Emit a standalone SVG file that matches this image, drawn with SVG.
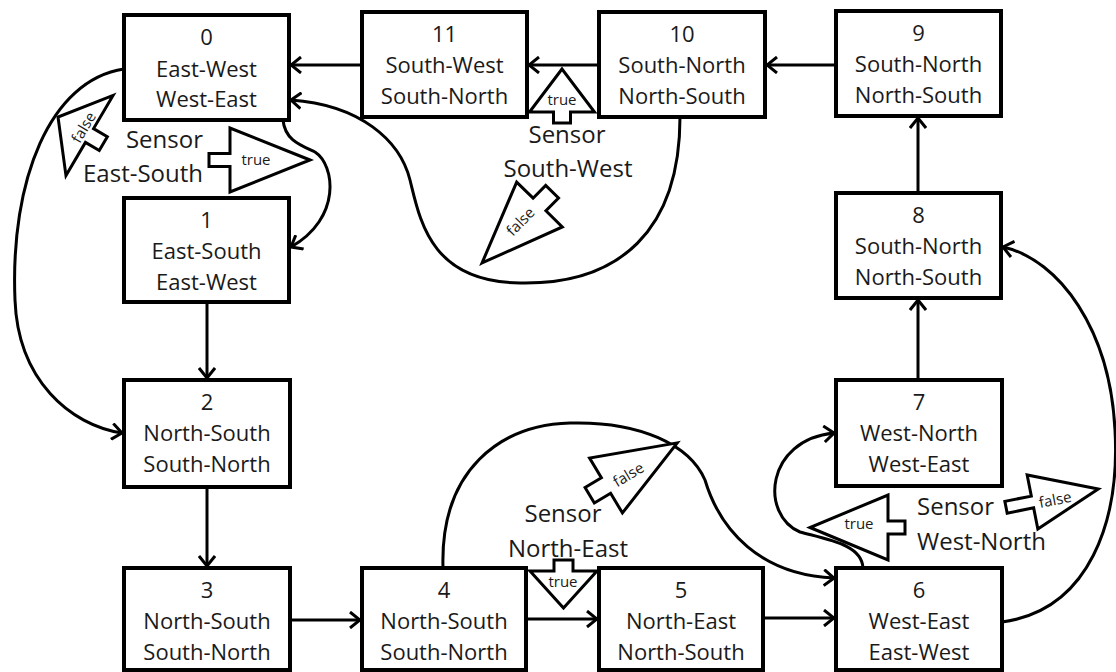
<svg xmlns="http://www.w3.org/2000/svg" width="1116" height="672" viewBox="0 0 1116 672">
<defs>
<style>
.box{fill:#fff;stroke:#000;stroke-width:4}
.t{font-family:"Open Sans","Liberation Sans",sans-serif;font-size:22px;fill:#1a1a1a;text-anchor:middle}
.s{font-family:"Open Sans","Liberation Sans",sans-serif;font-size:24px;fill:#1a1a1a}
.e{fill:none;stroke:#000;stroke-width:3;marker-end:url(#ah)}
.ba{fill:#fff;stroke:#000;stroke-width:3;stroke-linejoin:miter}
.bl{font-family:"Open Sans","Liberation Sans",sans-serif;font-size:15px;fill:#1a1a1a;text-anchor:middle;dominant-baseline:central}
</style>
<marker id="ah" viewBox="0 0 12 18" refX="11" refY="9" markerWidth="12" markerHeight="18" markerUnits="userSpaceOnUse" orient="auto">
<path d="M1,1 L11,9 L1,17" fill="none" stroke="#000" stroke-width="3"/>
</marker>
</defs>
<rect width="1116" height="672" fill="#fff"/>

<g id="connectors">
<path class="e" d="M362,65 L291,65"/>
<path class="e" d="M599,65 L529,65"/>
<path class="e" d="M836,65 L767,65"/>
<path class="e" d="M918,193 L918,118"/>
<path class="e" d="M918,380 L918,300"/>
<path class="e" d="M207,302 L207,378"/>
<path class="e" d="M207,487 L207,566"/>
<path class="e" d="M290,620 L360,620"/>
<path class="e" d="M526,619 L597,619"/>
<path class="e" d="M763,618 L834,618"/>
<path class="e" d="M124,69 C50,80 10,180 15,300 C18,380 70,425 122,433"/>
<path class="e" d="M283,120 C285,140 300,145 315,152 C335,165 342,218 291,247"/>
<path class="e" d="M680,117 C680,230 620,285 520,283 C430,282 420,220 410,180 C400,140 360,105 291,100"/>
<path class="e" d="M443,568 C440,470 500,425 570,423 C640,421 690,445 705,480 C720,530 760,575 834,578"/>
<path class="e" d="M863,568 C862,545 830,540 800,532 C760,515 765,440 834,433"/>
<path class="e" d="M1002,622 C1090,610 1120,520 1115,430 C1110,330 1060,260 1003,247"/>
</g>

<g id="node0"><rect class="box" x="124" y="15" width="165" height="105"/>
<text class="t" x="206.5" y="45">0</text><text class="t" x="206.5" y="77">East-West</text><text class="t" x="206.5" y="107">West-East</text></g>
<g id="node1"><rect class="box" x="124" y="198" width="165" height="104"/>
<text class="t" x="206.5" y="228">1</text><text class="t" x="206.5" y="259">East-South</text><text class="t" x="206.5" y="290">East-West</text></g>
<g id="node2"><rect class="box" x="124" y="380" width="166" height="107"/>
<text class="t" x="207" y="410">2</text><text class="t" x="207" y="441">North-South</text><text class="t" x="207" y="472">South-North</text></g>
<g id="node3"><rect class="box" x="124" y="568" width="166" height="102"/>
<text class="t" x="207" y="598">3</text><text class="t" x="207" y="629">North-South</text><text class="t" x="207" y="660">South-North</text></g>
<g id="node4"><rect class="box" x="362" y="568" width="164" height="102"/>
<text class="t" x="444" y="598">4</text><text class="t" x="444" y="629">North-South</text><text class="t" x="444" y="660">South-North</text></g>
<g id="node5"><rect class="box" x="599" y="568" width="164" height="102"/>
<text class="t" x="681" y="598">5</text><text class="t" x="681" y="629">North-East</text><text class="t" x="681" y="660">North-South</text></g>
<g id="node6"><rect class="box" x="836" y="568" width="166" height="102"/>
<text class="t" x="919" y="598">6</text><text class="t" x="919" y="629">West-East</text><text class="t" x="919" y="660">East-West</text></g>
<g id="node7"><rect class="box" x="836" y="380" width="166" height="106"/>
<text class="t" x="919" y="410">7</text><text class="t" x="919" y="441">West-North</text><text class="t" x="919" y="472">West-East</text></g>
<g id="node8"><rect class="box" x="836" y="193" width="165" height="105"/>
<text class="t" x="918.5" y="223">8</text><text class="t" x="918.5" y="254">South-North</text><text class="t" x="918.5" y="285">North-South</text></g>
<g id="node9"><rect class="box" x="836" y="11" width="165" height="105"/>
<text class="t" x="918.5" y="41">9</text><text class="t" x="918.5" y="72">South-North</text><text class="t" x="918.5" y="103">North-South</text></g>
<g id="node10"><rect class="box" x="599" y="12" width="166" height="105"/>
<text class="t" x="682" y="42">10</text><text class="t" x="682" y="73">South-North</text><text class="t" x="682" y="104">North-South</text></g>
<g id="node11"><rect class="box" x="362" y="12" width="165" height="105"/>
<text class="t" x="444.5" y="42">11</text><text class="t" x="444.5" y="73">South-West</text><text class="t" x="444.5" y="104">South-North</text></g>

<g id="sensor-east-south">
<text class="s" x="203" y="148" text-anchor="end">Sensor</text>
<text class="s" x="203" y="182" text-anchor="end">East-South</text>
<polygon class="ba" transform="translate(230,160)" points="80,0 0,-32 0,-6.5 -21,-6.5 -21,6.5 0,6.5 0,32"/>
<text class="bl" x="256" y="159">true</text>
<polygon class="ba" transform="translate(89.5,135.5) rotate(-149.6)" points="36.5,0 0,-46.5 0,-8 -16,-8 -16,8 0,8 0,46.5"/>
<text class="bl" transform="rotate(-59.5,83,127)" x="83" y="127">false</text>
</g>

<g id="sensor-south-west">
<text class="s" x="567" y="143" text-anchor="middle">Sensor</text>
<text class="s" x="568" y="177" text-anchor="middle">South-West</text>
<polygon class="ba" transform="translate(562,112) rotate(-90)" points="43,0 0,-32.5 0,-8.5 -11,-8.5 -11,8.5 0,8.5 0,32.5"/>
<text class="bl" x="562" y="99">true</text>
<polygon class="ba" transform="translate(539.5,204.5) rotate(134.5)" points="82,0 0,-32 0,-9 -18,-9 -18,9 0,9 0,32"/>
<text class="bl" transform="rotate(-45.5,520,221)" x="520" y="221">false</text>
</g>

<g id="sensor-north-east">
<text class="s" x="563" y="522" text-anchor="middle">Sensor</text>
<text class="s" x="568" y="557" text-anchor="middle">North-East</text>
<polygon class="ba" transform="translate(563.5,571) rotate(90)" points="37,0 0,-33.5 0,-9.5 -11,-9.5 -11,9.5 0,9.5 0,33.5"/>
<text class="bl" x="563" y="581">true</text>
<polygon class="ba" transform="translate(606,485.5) rotate(-30.9)" points="83,0 0,-32 0,-9 -19,-9 -19,9 0,9 0,32"/>
<text class="bl" transform="rotate(-31,628,474)" x="628" y="474">false</text>
</g>

<g id="sensor-west-north">
<text class="s" x="917" y="515">Sensor</text>
<text class="s" x="917" y="550">West-North</text>
<polygon class="ba" transform="translate(888,527.5) rotate(180)" points="78,0 0,-32.5 0,-6.5 -17,-6.5 -17,6.5 0,6.5 0,32.5"/>
<text class="bl" x="859" y="523">true</text>
<polygon class="ba" transform="translate(1032.5,502) rotate(-11.2)" points="67,0 0,-27.5 0,-6 -27,-6 -27,6 0,6 0,27.5"/>
<text class="bl" transform="rotate(-11,1055,499)" x="1055" y="499">false</text>
</g>
</svg>
